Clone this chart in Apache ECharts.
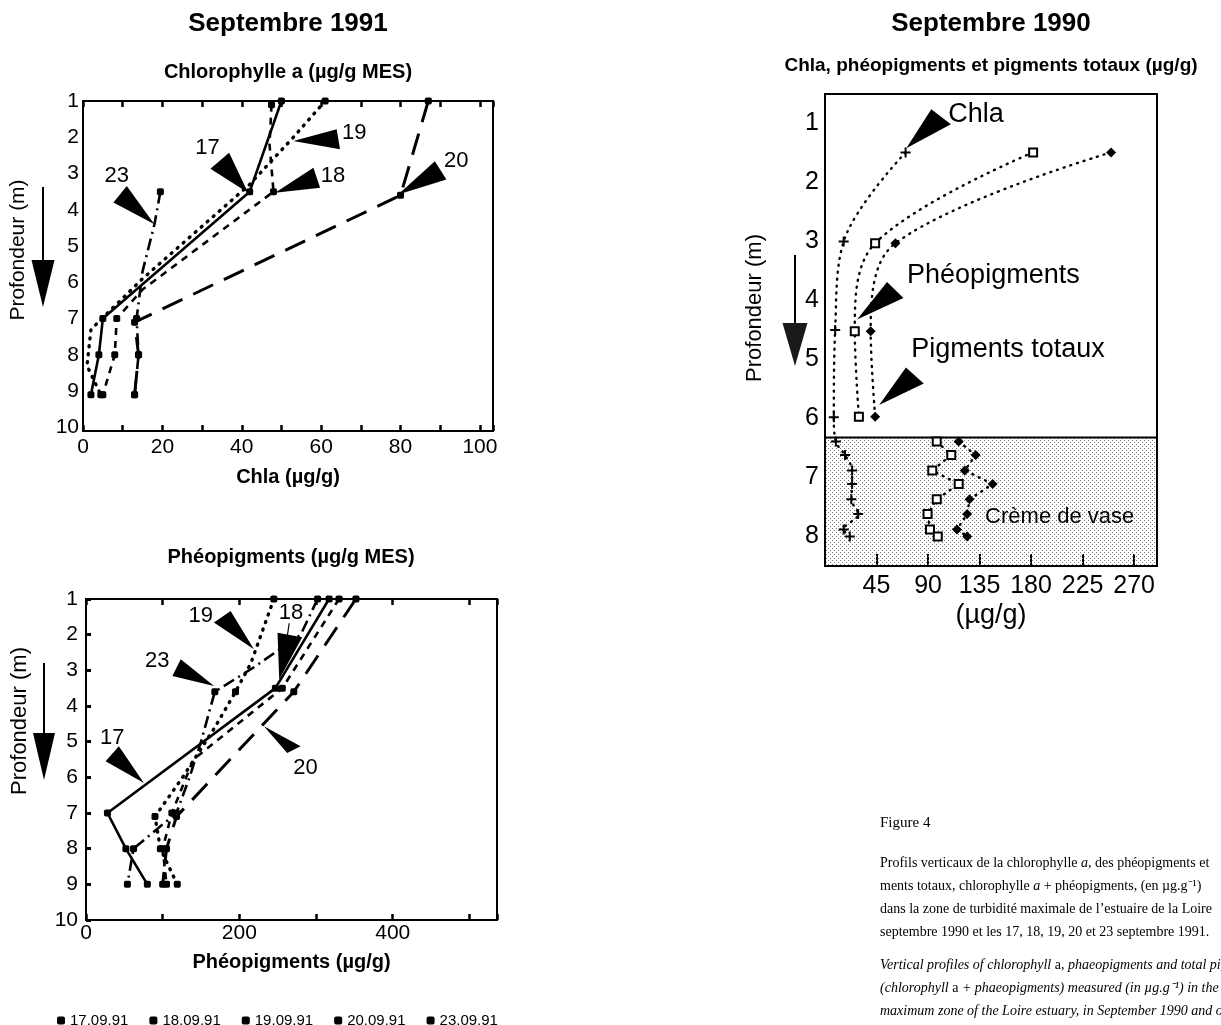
<!DOCTYPE html>
<html>
<head>
<meta charset="utf-8">
<title>Profils verticaux – chlorophylle a et phéopigments</title>
<script src="https://cdn.jsdelivr.net/npm/echarts@6.0.0/dist/echarts.min.js"></script>
<style>
html,body{margin:0;padding:0;background:#fff;}
#fig{width:1221px;height:1025px;}
</style>
</head>
<body>
<div id="fig"></div>
<script>
// ---------- Septembre 1991 ----------
const dates91 = ['17.09.91', '18.09.91', '19.09.91', '20.09.91', '23.09.91'];
// profondeurs de prélèvement (m)
const sampleDepths91 = [1, 3.5, 7, 8, 9];

// Chlorophylle a (µg/g MES) : [valeur, profondeur]
const chla17 = [[50, 1], [42, 3.5], [5, 7], [4, 8], [2, 9.1]];
const chla18 = [[47.5, 1.1], [47, 2.2], [48, 3.5], [15, 6.2], [8.5, 7], [8, 8], [5, 9.1]];
const chla19 = [[61, 1], [53, 2], [42, 3.3], [15, 5.9], [2, 7.3], [1, 8.3], [4.5, 9.1]];
const chla20 = [[87, 1], [80, 3.6], [13, 7.1], [14, 8], [13, 9.1]];
const chla23 = [[19.5, 3.5], [18, 4.4], [15, 5.7], [13.5, 7], [14, 8], [13, 9.1]];

// Phéopigments (µg/g MES) : [valeur, profondeur]
const pheo17 = [[317, 1], [247, 3.5], [28, 7], [52, 8], [80, 9]];
const pheo18 = [[330, 1], [256, 3.5], [140, 5.5], [112, 7], [100, 8], [105, 9]];
const pheo19 = [[245, 1], [215, 2.8], [195, 3.6], [168, 4.6], [126, 6], [90, 7.1], [97, 8], [119, 9]];
const pheo20 = [[352, 1], [271, 3.6], [118, 7.1], [105, 8], [100, 9]];
const pheo23 = [[302, 1], [280, 2], [220, 2.9], [168, 3.6], [150, 5], [135, 6], [118, 7], [62, 8], [54, 9]];

// ---------- Septembre 1990 ----------
const cremeDepth = 6.32; // sommet de la crème de vase (m)
const chla90 = [[70.4, 1.49], [16.3, 3.0], [8.9, 4.5], [7.7, 5.98], [9.5, 6.39], [17.5, 6.62], [23.7, 6.88],
                [23.7, 7.11], [23, 7.37], [29, 7.62], [16.3, 7.88], [21.6, 8.0]];
const pheo90 = [[181.8, 1.49], [43.8, 3.03], [26, 4.52], [29.6, 5.97]];
const pheoCreme90 = [[97.6, 6.39], [110.3, 6.62], [93.7, 6.88], [116.8, 7.11], [97.6, 7.37], [89.6, 7.62], [91.7, 7.88], [98.5, 8.0]];
const total90 = [[249.9, 1.49], [61.5, 3.03], [39.9, 4.52], [43.8, 5.97]];
const totalCreme90 = [[116.8, 6.39], [131.6, 6.62], [122.1, 6.88], [146.4, 7.11], [126.3, 7.37], [124.2, 7.62], [115.3, 7.88], [124.2, 8.0]];

// Textes
const figureLabel = 'Figure 4';
const captionFr = [
  '{n|Profils verticaux de la chlorophylle }{i|a}{n|, des phéopigments et}',
  '{n|ments totaux, chlorophylle }{i|a}{n| + phéopigments, (en µg.g⁻¹)}',
  '{n|dans la zone de turbidité maximale de l’estuaire de la Loire}',
  '{n|septembre 1990 et les 17, 18, 19, 20 et 23 septembre 1991.}'
];
const captionEn = [
  '{i|Vertical profiles of chlorophyll }{n|a}{i|, phaeopigments and total pigments}',
  '{i|(chlorophyll }{n|a}{i| + phaeopigments) measured (in µg.g⁻¹) in the}',
  '{i|maximum zone of the Loire estuary, in September 1990 and on}',
  '{i|18, 20 and 23 September 1991.}'
];

// ------------------------------------------------------------------
const SANS = 'Liberation Sans, Arial, Helvetica, sans-serif';
const SERIF = 'Liberation Serif, Times New Roman, serif';
const chart = echarts.init(document.getElementById('fig'), null, { renderer: 'canvas' });

// trame pointillée de la crème de vase
const pat = document.createElement('canvas');
pat.width = 4; pat.height = 4;
const pg = pat.getContext('2d');
pg.fillStyle = '#7a7a7a';
pg.fillRect(0, 0, 1, 1);
pg.fillRect(2, 2, 1, 1);

const styles91 = [
  { type: 'solid', width: 2.6 },
  { type: [7, 6], width: 2.6 },
  { type: [1, 7], width: 3.4, cap: 'round' },
  { type: [22, 12], width: 3 },
  { type: [12, 5, 2, 5], width: 2.6 }
];

function isSample(d) { return sampleDepths91.some(s => Math.abs(s - d) <= 0.15); }

function profile91(i, pts, gridIdx) {
  return {
    type: 'line', name: dates91[i],
    xAxisIndex: gridIdx === 0 ? 0 : 2, yAxisIndex: gridIdx,
    data: pts.map(p => ({ value: p, symbol: isSample(p[1]) ? 'roundRect' : 'none' })),
    symbolSize: 7, color: '#000',
    lineStyle: Object.assign({ color: '#000' }, styles91[i]),
    itemStyle: { color: '#000' },
    emphasis: { disabled: true }, z: 3, clip: false
  };
}

const plus = 'path://M4,0H6V4H10V6H6V10H4V6H0V4H4Z';
function profile90(pts, sym, fill, smooth) {
  return {
    type: 'line', xAxisIndex: 4, yAxisIndex: 2, data: pts,
    symbol: sym, symbolSize: sym === 'rect' ? 8 : 10, smooth: smooth,
    lineStyle: { color: '#000', width: 2.4, type: [1, 6], cap: 'round' },
    itemStyle: { color: fill, borderColor: '#000', borderWidth: sym === 'rect' ? 2 : 0 },
    emphasis: { disabled: true }, z: 3
  };
}

const tickInside = (len, w) => ({ show: true, inside: true, length: len, lineStyle: { color: '#000', width: w } });
const lab = (size, fmt, margin) => ({ show: true, color: '#000', fontFamily: SANS, fontSize: size, formatter: fmt, margin: margin });
const nameStyle = (size, weight) => ({ color: '#000', fontFamily: SANS, fontSize: size, fontWeight: weight || 'normal' });

const series = [];
[chla17, chla18, chla19, chla20, chla23].forEach((d, i) => series.push(profile91(i, d, 0)));
[pheo17, pheo18, pheo19, pheo20, pheo23].forEach((d, i) => series.push(profile91(i, d, 1)));
series.push({
  type: 'line', xAxisIndex: 4, yAxisIndex: 2, data: [], z: 1, silent: true,
  markArea: {
    silent: true,
    itemStyle: { color: { image: pat, repeat: 'repeat' }, borderColor: '#000', borderWidth: 2 },
    data: [[{ yAxis: cremeDepth }, { yAxis: 8.5 }]]
  }
});
series.push(profile90(chla90, plus, '#000', 0.35));
series.push(profile90(pheo90, 'rect', '#fff', 0.35));
series.push(profile90(total90, 'diamond', '#000', 0.35));
series.push(profile90(pheoCreme90, 'rect', '#fff', false));
series.push(profile90(totalCreme90, 'diamond', '#000', false));

const option = {
  animation: false,
  backgroundColor: '#fff',
  textStyle: { fontFamily: SANS },
  grid: [
    { left: 83, top: 101, width: 410, height: 330, show: true, borderColor: '#000', borderWidth: 2, backgroundColor: 'transparent' },
    { left: 86, top: 599, width: 411, height: 321, show: true, borderColor: '#000', borderWidth: 2, backgroundColor: 'transparent' },
    { left: 825, top: 94, width: 332, height: 472, show: true, borderColor: '#000', borderWidth: 2, backgroundColor: 'transparent' }
  ],
  xAxis: [
    { gridIndex: 0, type: 'value', position: 'bottom', min: 0, max: 103.3, interval: 10,
      axisLine: { show: false }, splitLine: { show: false }, axisTick: tickInside(6, 2.5),
      axisLabel: lab(21, v => (v % 20 === 0 && v <= 100 ? String(v) : ''), 6),
      name: 'Chla (µg/g)', nameLocation: 'middle', nameGap: 36, nameTextStyle: nameStyle(20, 'bold') },
    { gridIndex: 0, type: 'value', position: 'top', min: 0, max: 103.3, interval: 10,
      axisLine: { show: false }, splitLine: { show: false }, axisTick: tickInside(6, 2.5), axisLabel: { show: false } },
    { gridIndex: 1, type: 'value', position: 'bottom', min: 0, max: 536, interval: 100,
      axisLine: { show: false }, splitLine: { show: false }, axisTick: tickInside(6, 2.5),
      axisLabel: lab(21, v => (v % 200 === 0 && v <= 400 ? String(v) : ''), 3),
      name: 'Phéopigments (µg/g)', nameLocation: 'middle', nameGap: 32, nameTextStyle: nameStyle(20, 'bold') },
    { gridIndex: 1, type: 'value', position: 'top', min: 0, max: 536, interval: 100,
      axisLine: { show: false }, splitLine: { show: false }, axisTick: tickInside(6, 2.5), axisLabel: { show: false } },
    { gridIndex: 2, type: 'value', position: 'bottom', min: 0, max: 290, interval: 45,
      axisLine: { show: false }, splitLine: { show: false }, axisTick: tickInside(12, 2),
      axisLabel: lab(25, v => (v > 0 && v % 45 === 0 ? String(v) : ''), 8),
      name: '(µg/g)', nameLocation: 'middle', nameGap: 36, nameTextStyle: nameStyle(27) }
  ],
  yAxis: [
    { gridIndex: 0, type: 'value', inverse: true, min: 1, max: 10.1, interval: 1,
      axisLine: { show: false }, splitLine: { show: false }, axisTick: { show: false },
      axisLabel: lab(21, v => (Number.isInteger(v) ? String(v) : ''), 4) },
    { gridIndex: 1, type: 'value', inverse: true, min: 1, max: 10, interval: 1,
      axisLine: { show: false }, splitLine: { show: false }, axisTick: tickInside(5, 3),
      axisLabel: lab(21, v => String(v), 8) },
    { gridIndex: 2, type: 'value', inverse: true, min: 0.5, max: 8.5, interval: 0.5,
      axisLine: { show: false }, splitLine: { show: false }, axisTick: { show: false },
      axisLabel: lab(25, v => (Number.isInteger(v) && v >= 1 && v <= 8 ? String(v) : ''), 6) }
  ],
  legend: {
    data: dates91, left: 52, top: 1008, icon: 'roundRect', itemWidth: 8, itemHeight: 8, itemGap: 21,
    selectedMode: false, textStyle: { color: '#000', fontFamily: SANS, fontSize: 15 },
    itemStyle: { color: '#000' }
  },
  series: series
};
chart.setOption(option);

// ---------- repères, flèches et textes ----------
const G = [];
const txt = (x, y, s, font, align, extra) => G.push(Object.assign({
  type: 'text', x: x, y: y, z: 10,
  style: Object.assign({ text: s, font: font, fill: '#000', align: align || 'center', verticalAlign: 'middle',
                         textAlign: align || 'center', textVerticalAlign: 'middle' }, (extra && extra.style) || {})
}, extra && extra.rotation !== undefined ? { rotation: extra.rotation } : {}));
const poly = (pts, fill) => G.push({ type: 'polygon', z: 10, shape: { points: pts }, style: { fill: fill || '#000' } });
const seg = (a, b, w) => G.push({ type: 'line', z: 10, shape: { x1: a[0], y1: a[1], x2: b[0], y2: b[1] }, style: { stroke: '#000', lineWidth: w } });

function wedge(gi, tip, a, b, label, lOff, font, align) {
  const t = chart.convertToPixel({ gridIndex: gi }, tip);
  poly([t, [t[0] + a[0], t[1] + a[1]], [t[0] + b[0], t[1] + b[1]]]);
  if (label) txt(t[0] + lOff[0], t[1] + lOff[1], label, font, align);
  return t;
}

const F22 = '22px ' + SANS;
// 1991 chlorophylle a
wedge(0, [18, 4.4], [-41, -21.7], [-27.7, -38.3], '23', [-37.7, -48.3], F22);
wedge(0, [41.6, 3.53], [-37.7, -24], [-19, -40], '17', [-40.7, -45], F22);
wedge(0, [48.4, 3.53], [38.3, -25], [45, -5], '18', [58, -16.7], F22);
wedge(0, [53, 2.1], [43.3, -11.7], [46.7, 8.3], '19', [61, -8.3], F22);
wedge(0, [79.4, 3.58], [36.7, -33.3], [48.3, -15], '20', [58, -33.3], F22);
// 1991 phéopigments
wedge(1, [219, 2.41], [-40, -26.7], [-23.3, -38.3], '19', [-53.3, -33.3], F22);
const t18 = wedge(1, [252, 3.25], [-1.7, -46.6], [23, -42], '18', [11.7, -66.6], F22);
seg([t18[0] + 10, t18[1] - 56], [t18[0] + 8, t18[1] - 43], 1.2);
wedge(1, [167, 3.44], [-41.7, -10], [-33.3, -26.7], '23', [-56.7, -25], F22);
wedge(1, [75.5, 6.16], [-38.3, -21.7], [-25, -36.7], '17', [-31.7, -45], F22);
wedge(1, [232, 4.57], [23.3, 26.7], [36.7, 20], '20', [41.7, 41.7], F22);
// 1990
const F27 = '27px ' + SANS;
wedge(2, [71, 1.42], [25, -39], [44.6, -24], 'Chla', [42, -34], F27, 'left');
wedge(2, [28, 4.32], [30, -37.5], [46.4, -21.4], 'Phéopigments', [50, -44], F27, 'left');
wedge(2, [47.3, 5.77], [26.8, -37.5], [44.6, -21.4], 'Pigments totaux', [32, -55], F27, 'left');
const cv = chart.convertToPixel({ gridIndex: 2 }, [205, 7.67]);
txt(cv[0], cv[1], 'Crème de vase', '22px ' + SANS);

// axes de profondeur (texte vertical + flèche)
function depthLabel(x, yc, size, ax, y0, y1, tw, y2, fill) {
  txt(x, yc, 'Profondeur (m)', size + 'px ' + SANS, 'center', { rotation: Math.PI / 2 });
  seg([ax, y0], [ax, y1 + 2], 2);
  poly([[ax - tw, y1], [ax + tw, y1], [ax, y2]], fill);
}
depthLabel(18, 250, 21, 43, 187, 260, 11.5, 307);
depthLabel(20, 721, 22, 44, 663, 733, 11, 780);
depthLabel(755, 308, 22, 795, 255, 323, 12.5, 366, '#1a1a1a');

// titres
const gA = 83 + 205, gC = 825 + 166;
txt(gA, 24, 'Septembre 1991', 'bold 26px ' + SANS);
txt(gA, 72, 'Chlorophylle a (µg/g MES)', 'bold 20px ' + SANS);
txt(291, 557, 'Phéopigments (µg/g MES)', 'bold 20px ' + SANS);
txt(gC, 24, 'Septembre 1990', 'bold 26px ' + SANS);
txt(gC, 66, 'Chla, phéopigments et pigments totaux (µg/g)', 'bold 19px ' + SANS);

// légende de la figure
const richFr = { n: { font: '14px ' + SERIF, fill: '#000' }, i: { font: 'italic 14px ' + SERIF, fill: '#000' } };
txt(880, 823, figureLabel, '15px ' + SERIF, 'left');
captionFr.forEach((l, k) => txt(880, 863 + 23 * k, l, '14px ' + SERIF, 'left', { style: { rich: richFr } }));
captionEn.forEach((l, k) => txt(880, 965 + 23 * k, l, '14px ' + SERIF, 'left', { style: { rich: richFr } }));

chart.setOption({ graphic: G });
</script>
</body>
</html>
